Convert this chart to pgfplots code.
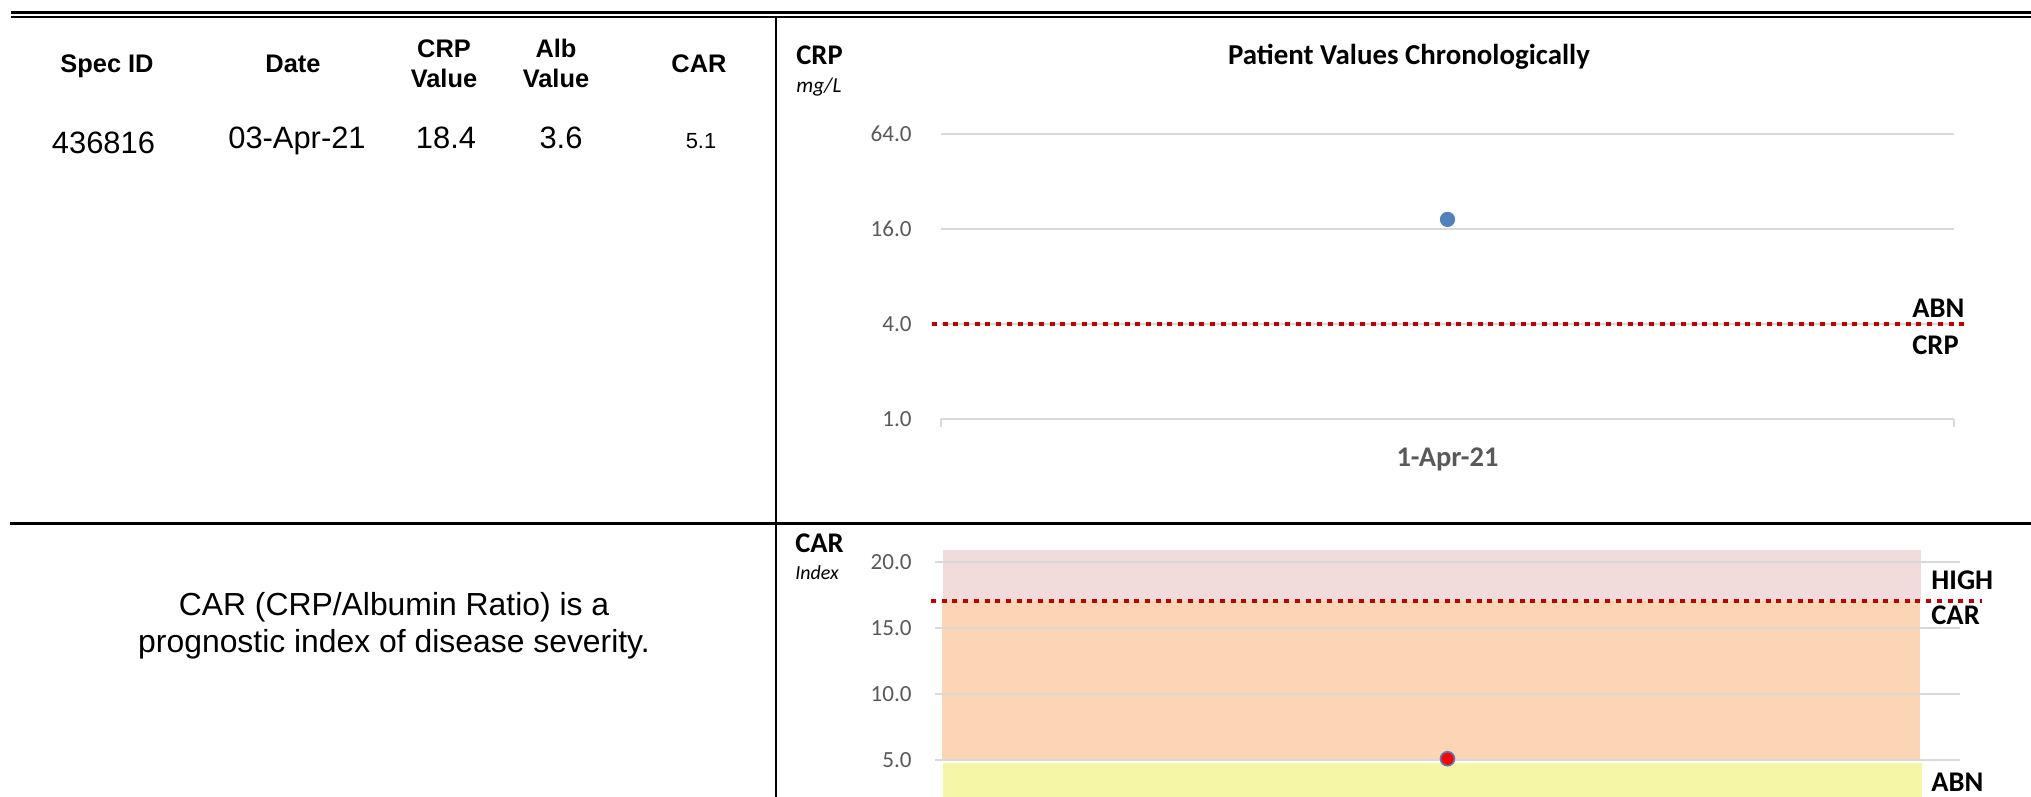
\documentclass[border=0pt]{standalone}
\usepackage{pgfplots}
\pgfplotsset{compat=1.18}
\usepackage{fontspec}
\setmainfont{Carlito}
\newfontfamily\arial{Liberation Sans}
\definecolor{gridc}{HTML}{D9D9D9}
\definecolor{tickc}{HTML}{595959}
\definecolor{dotred}{HTML}{C00000}
\definecolor{ptblue}{HTML}{4F81BD}
\definecolor{bandpink}{HTML}{F2DCDB}
\definecolor{bandorange}{HTML}{FCD5B5}
\definecolor{bandyellow}{HTML}{F5F7A6}
\newcommand{\fs}[1]{\fontsize{#1}{#1}\selectfont}
\begin{document}
\begin{tikzpicture}
\path[use as bounding box] (0,0) rectangle (1015.5bp,-398.5bp);
% frame lines
\draw[line width=1.5bp] (5.5bp,-6.25bp) -- (1015.5bp,-6.25bp);
\draw[line width=1.15bp] (5.5bp,-8.6bp) -- (1015.5bp,-8.6bp);
\draw[line width=1.15bp] (388bp,-9bp) -- (388bp,-398.5bp);
\draw[line width=1.6bp] (5bp,-261.75bp) -- (1015.5bp,-261.75bp);
% table
\begin{scope}[every node/.style={inner sep=0pt, anchor=base}]
\node[font=\arial\bfseries\fs{12.75}] at (53.5bp,-36bp) {Spec ID};
\node[font=\arial\bfseries\fs{12.75}] at (146.5bp,-36bp) {Date};
\node[font=\arial\bfseries\fs{12.75}] at (222bp,-28.5bp) {CRP};
\node[font=\arial\bfseries\fs{12.75}] at (222bp,-43.5bp) {Value};
\node[font=\arial\bfseries\fs{12.75}] at (278bp,-28.5bp) {Alb};
\node[font=\arial\bfseries\fs{12.75}] at (278bp,-43.5bp) {Value};
\node[font=\arial\bfseries\fs{12.75}] at (349.5bp,-36bp) {CAR};
\node[font=\arial\fs{15.5}] at (51.75bp,-76.75bp) {436816};
\node[font=\arial\fs{15.5}] at (148.5bp,-74.25bp) {03-Apr-21};
\node[font=\arial\fs{15.5}] at (223bp,-74.25bp) {18.4};
\node[font=\arial\fs{15.5}] at (280.5bp,-74.25bp) {3.6};
\node[font=\arial\fs{11}] at (350.5bp,-74bp) {5.1};
\node[font=\arial\fs{16}] at (197bp,-307.5bp) {CAR (CRP/Albumin Ratio) is a};
\node[font=\arial\fs{16}] at (197bp,-326.2bp) {prognostic index of disease severity.};
% chart labels
\node[font=\bfseries\fs{14.5}] at (704.5bp,-32.2bp) {Patient Values Chronologically};
\node[font=\bfseries\fs{14.3}, anchor=base west] at (398bp,-32.2bp) {CRP};
\node[font=\itshape\fs{10.7}, anchor=base west] at (398bp,-46bp) {mg/L};
\node[font=\bfseries\fs{14.3}, anchor=base west] at (397.5bp,-276.1bp) {CAR};
\node[font=\itshape\fs{10}, anchor=base west] at (397.5bp,-289.7bp) {Index};
\node[font=\bfseries\fs{14.3}, anchor=base west] at (956bp,-158.6bp) {ABN};
\node[font=\bfseries\fs{14.3}, anchor=base west] at (956bp,-177.1bp) {CRP};
\node[font=\bfseries\fs{14.3}, anchor=base west] at (965.5bp,-294.6bp) {HIGH};
\node[font=\bfseries\fs{14.3}, anchor=base west] at (965.5bp,-312.1bp) {CAR};
\node[font=\bfseries\fs{14.3}, anchor=base west] at (965.5bp,-395.6bp) {ABN};
\end{scope}
% upper chart
\begin{axis}[
  at={(470.5bp,-209.5bp)}, anchor=south west,
  width=506.5bp, height=142.5bp, scale only axis,
  clip=false,
  xmin=0, xmax=1,
  ymode=log, log basis y=2, ymin=1, ymax=64,
  ytick={1,4,16,64}, yticklabels={1.0,4.0,16.0,64.0},
  xtick={0.5}, xticklabels={1-Apr-21},
  separate axis lines,
  axis x line*=bottom, axis y line*=left,
  x axis line style={draw=gridc, line width=0.85bp, -},
  y axis line style={draw=none},
  ymajorgrids, grid style={draw=gridc, line width=0.85bp},
  major tick length=0pt,
  extra x ticks={0,1}, extra x tick labels={},
  extra x tick style={major tick length=4bp, tick align=outside, tick style={draw=gridc, line width=0.85bp}},
  yticklabel style={font=\fs{11.6}, text=tickc, anchor=east, inner sep=0pt, xshift=-14.5bp},
  xticklabel style={font=\bfseries\fs{14.3}, text=tickc, anchor=base, inner sep=0pt, yshift=-23.6bp},
]
\addplot[dotred, line width=2.3bp, dash pattern=on 2.5bp off 2.85bp] coordinates {(-0.0089,4) (1.0128,4)};
\addplot[only marks, mark=*, mark size=3.6bp, mark options={fill=ptblue, draw=ptblue}] coordinates {(0.5,18.4)};
\end{axis}
% lower chart: bands
\begin{axis}[
  at={(467.5bp,-398.5bp)}, anchor=south west,
  width=512.5bp, height=124.08bp, scale only axis,
  hide axis,
  xmin=0, xmax=1, ymin=2.2, ymax=21,
]
\addplot[fill=bandpink, draw=none] coordinates {(0.0078,17.05) (0.962,17.05) (0.962,20.9) (0.0078,20.9)};
\addplot[fill=bandorange, draw=none] coordinates {(0.0068,5.07) (0.961,5.07) (0.961,17.05) (0.0068,17.05)};
\addplot[fill=bandyellow, draw=none] coordinates {(0.0078,2.2) (0.9629,2.2) (0.9629,4.77) (0.0078,4.77)};
\end{axis}
% lower chart: grid, lines, point
\begin{axis}[
  at={(467.5bp,-398.5bp)}, anchor=south west,
  width=512.5bp, height=124.08bp, scale only axis,
  clip=false,
  xmin=0, xmax=1, ymin=2.2, ymax=21,
  ytick={5,10,15,20}, yticklabels={5.0,10.0,15.0,20.0},
  xtick=\empty,
  axis line style={draw=none},
  ymajorgrids, grid style={draw=gridc, line width=0.85bp},
  major tick length=0pt,
  yticklabel style={font=\fs{11.6}, text=tickc, anchor=east, inner sep=0pt, xshift=-11.5bp},
]
\addplot[dotred, line width=2.3bp, dash pattern=on 2.5bp off 2.85bp] coordinates {(-0.0039,17.05) (1.0215,17.05)};
\addplot[only marks, mark=*, mark size=3.5bp, mark options={fill=red, draw=ptblue, line width=0.8bp}] coordinates {(0.5,5.1)};
\end{axis}
\end{tikzpicture}
\end{document}
